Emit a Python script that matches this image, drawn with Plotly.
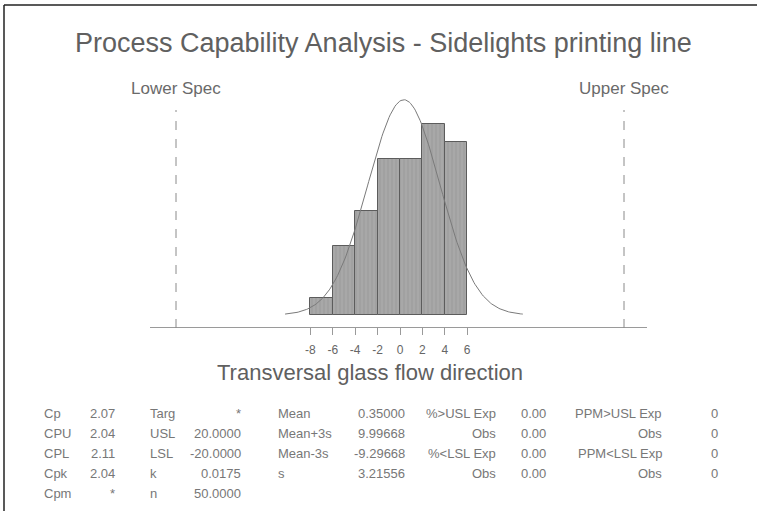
import numpy as np
import plotly.graph_objects as go

# ---------------- data ----------------
bin_edges = [-8, -6, -4, -2, 0, 2, 4, 6]
bin_counts = [1, 4, 6, 9, 9, 11, 10]
tick_values = [-8, -6, -4, -2, 0, 2, 4, 6]
LSL = -20.0
USL = 20.0
sample_mean = 0.35
sample_sd = 3.21556
sample_n = 50

title_text = "Process Capability Analysis - Sidelights printing line"
x_title = "Transversal glass flow direction"

cap_labels = ["Cp", "CPU", "CPL", "Cpk", "Cpm"]
cap_values = ["2.07", "2.04", "2.11", "2.04", "*"]
spec_labels = ["Targ", "USL", "LSL", "k", "n"]
spec_values = ["*", "20.0000", "-20.0000", "0.0175", "50.0000"]
mean_labels = ["Mean", "Mean+3s", "Mean-3s", "s"]
mean_values = ["0.35000", "9.99668", "-9.29668", "3.21556"]
pct_labels = ["%>USL Exp", "Obs", "%<LSL Exp", "Obs"]
pct_values = ["0.00", "0.00", "0.00", "0.00"]
ppm_labels = ["PPM>USL Exp", "Obs", "PPM<LSL Exp", "Obs"]
ppm_values = ["0", "0", "0", "0"]

# ---------------- figure ----------------
W, H = 757, 511
FONT = "Liberation Sans, Arial, sans-serif"


def px(x):
    return x / W


def py(y):
    return 1 - y / H


bin_width = bin_edges[1] - bin_edges[0]
centers = [(a + b) / 2 for a, b in zip(bin_edges[:-1], bin_edges[1:])]

fig = go.Figure()
fig.add_trace(go.Bar(
    x=centers, y=bin_counts, width=[bin_width] * len(centers),
    marker=dict(color="#a8a8a8", line=dict(color="#5c5c5c", width=1),
                pattern=dict(shape="|", fgcolor="#8c8c8c", size=4, solidity=0.25)),
    hoverinfo="skip", showlegend=False))

# fitted normal curve from the reported mean / s
xs = np.linspace(sample_mean - 3.3 * sample_sd, sample_mean + 3.3 * sample_sd, 200)
ys = sample_n * bin_width * np.exp(-0.5 * ((xs - sample_mean) / sample_sd) ** 2) / (sample_sd * np.sqrt(2 * np.pi))
fig.add_trace(go.Scatter(x=xs, y=ys, mode="lines", line=dict(color="#7a7a7a", width=1),
                         hoverinfo="skip", showlegend=False))

# axes geometry (pixels)
x0_px, x1_px = 150, 647
zero_px, ppu = 400, 11.2
y_bot_px, y_top_px = 327, 90
base_px, ppc = 315, 17.35

fig.update_xaxes(
    domain=[px(x0_px), px(x1_px)],
    range=[(x0_px - zero_px) / ppu, (x1_px - zero_px) / ppu],
    showline=True, linecolor="#9a9a9a", linewidth=1.2,
    ticks="outside", ticklen=7, tickcolor="#9a9a9a", tickwidth=1,
    tickvals=tick_values, ticktext=[str(v) for v in tick_values],
    tickfont=dict(family=FONT, size=12, color="#666666"),
    ticklabelstandoff=4,
    showgrid=False, zeroline=False)
fig.update_yaxes(
    domain=[py(y_bot_px), py(y_top_px)],
    range=[-(y_bot_px - base_px) / ppc, (base_px - y_top_px) / ppc],
    visible=False, showgrid=False, zeroline=False)

shapes = []
for v in (LSL, USL):
    shapes.append(dict(type="line", xref="x", yref="paper", x0=v, x1=v,
                       y0=py(328), y1=py(110),
                       line=dict(color="#8a8a8a", width=1, dash="dash")))
# page frame
shapes.append(dict(type="line", xref="paper", yref="paper", x0=px(4), x1=1, y0=py(5), y1=py(5),
                   line=dict(color="#222222", width=1.5)))
shapes.append(dict(type="line", xref="paper", yref="paper", x0=px(4), x1=px(4), y0=0, y1=py(5),
                   line=dict(color="#222222", width=1.5)))

ann = []
ann.append(dict(text=title_text, x=px(383.5), y=py(43), xref="paper", yref="paper",
                showarrow=False, xanchor="center", yanchor="middle",
                font=dict(family=FONT, size=27, color="#606060")))
ann.append(dict(text="Lower Spec", x=LSL, y=py(88), xref="x", yref="paper",
                showarrow=False, xanchor="center", yanchor="middle",
                font=dict(family=FONT, size=17, color="#6a6a6a")))
ann.append(dict(text="Upper Spec", x=USL, y=py(88), xref="x", yref="paper",
                showarrow=False, xanchor="center", yanchor="middle",
                font=dict(family=FONT, size=17, color="#6a6a6a")))
ann.append(dict(text=x_title, x=px(370), y=py(357.5), xref="paper", yref="paper",
                showarrow=False, xanchor="center", yanchor="top",
                font=dict(family=FONT, size=22, color="#606060")))

row_y = [413, 433, 453, 473, 493]
columns = [
    (cap_labels, 42, "left"), (cap_values, 117, "right"),
    (spec_labels, 148, "left"), (spec_values, 243, "right"),
    (mean_labels, 276, "left"), (mean_values, 407, "right"),
    (pct_labels, 498, "right"), (pct_values, 548, "right"),
    (ppm_labels, 664, "right"), (ppm_values, 720, "right"),
]
for texts, xpos, anchor in columns:
    for i, t in enumerate(texts):
        ann.append(dict(text=t, x=px(xpos), y=py(row_y[i]), xref="paper", yref="paper",
                        showarrow=False, xanchor=anchor, yanchor="middle",
                        font=dict(family=FONT, size=13, color="#777777")))

fig.update_layout(
    width=W, height=H, margin=dict(l=0, r=0, t=0, b=0),
    paper_bgcolor="white", plot_bgcolor="rgba(0,0,0,0)",
    bargap=0, shapes=shapes, annotations=ann, showlegend=False)

fig.write_html("out.html", config={"displayModeBar": False},
               post_script="document.body.style.margin='0px';document.body.style.overflow='hidden';")
